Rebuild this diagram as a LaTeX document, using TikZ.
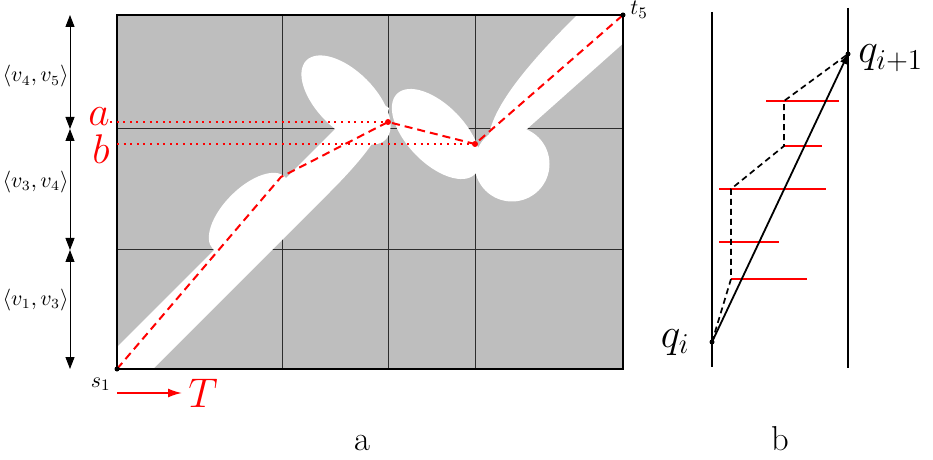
\documentclass[tikz,border=0pt]{standalone}
\usetikzlibrary{arrows.meta}
\definecolor{bggray}{RGB}{190,190,190}
\definecolor{gridgray}{RGB}{45,45,45}
\begin{document}
\begin{tikzpicture}[x=0.5pt,y=-0.5pt,
  gridline/.style={gridgray, line width=0.5pt},
  border/.style={black, line width=1pt},
  redpath/.style={red, line width=1pt, dash pattern=on 4pt off 2.5pt},
  reddotted/.style={red, line width=1pt, dash pattern=on 1pt off 2.3pt},
  blackdash/.style={black, line width=0.85pt, dash pattern=on 3pt off 2pt},
  redbar/.style={red, line width=0.9pt},
  rail/.style={black, line width=0.9pt},
  dimarrow/.style={black, line width=0.5pt, {Triangle[length=6pt,width=4.5pt]}-{Triangle[length=6pt,width=4.5pt]}},
  dimlabel/.style={anchor=east, inner sep=0pt, font=\fontsize{10.5}{12}\selectfont},
  ptlabel/.style={inner sep=0pt, font=\fontsize{11}{13}\selectfont},
  biglabel/.style={inner sep=0pt, font=\huge},
  caption/.style={inner sep=0pt, anchor=base, font=\LARGE},
]
\useasboundingbox (0,0) rectangle (933,460);

% ---------- panel a ----------
\coordinate (bl) at (117,369);
\coordinate (tr) at (623,15);
\fill[bggray] (bl) rectangle (tr);
\foreach \gx in {282,388,475} \draw[gridline] (\gx,15) -- (\gx,369);
\foreach \gy in {129,250} \draw[gridline] (117,\gy) -- (623,\gy);

\begin{scope}
  \clip (bl) rectangle (tr);
  % lower diagonal band
  \fill[white] (95,369) -- (338,126) .. controls (360,105) and (380,100) .. (389,108)
     .. controls (385,130) and (365,157) .. (330,192) -- (150,372) -- cycle;
  % left lobe
  \fill[white, rotate around={45:(249,213)}] (249,213) ellipse [x radius=51, y radius=25];
  % upper lobe
  \fill[white, rotate around={-45:(346,100)}] (346,100) ellipse [x radius=56, y radius=29];
  % middle lobe
  \fill[white, rotate around={-46:(436,134)}] (436,134) ellipse [x radius=56, y radius=29];
  % lower right lobe
  \fill[white] (512,164) circle (37.5);
  % upper right band
  \fill[white] (592,0) -- (577,15) .. controls (540,52) and (495,100) .. (489,135)
     .. controls (487,150) and (507,147) .. (527,129) -- (672,0) -- cycle;
\end{scope}
\draw[border] (bl) rectangle (tr);

\coordinate (s1) at (117,369);
\coordinate (p1) at (281,177);
\coordinate (p2) at (388,122);
\coordinate (p3) at (475,144);
\coordinate (t5) at (623,15);

\node[biglabel, red, anchor=base east] (la) at (110,126) {$a$};
\node[biglabel, red, anchor=base east] (lb) at (110,164) {$b$};
\draw[reddotted] (la.east |- p2) -- (p2);
\draw[reddotted] (s1 |- p3) -- (p3);
\draw[redpath] (s1) -- (p1) -- (p2) -- (p3) -- (t5);
\fill[red] (p2) circle (3);
\fill[red] (p3) circle (3);
\fill (s1) circle (2.5);
\fill (t5) circle (2.5);

\node[ptlabel, anchor=base east] (ls) at (111,387) {$s_1$};
\node[ptlabel, anchor=base west] (lt) at (630,15) {$t_5$};

% T arrow
\coordinate (Tstart) at (117,393);
\node[biglabel, red, anchor=base west] (T) at (188,408) {$T$};
\draw[red, line width=0.9pt, -{Latex[length=7pt,width=4.5pt]}] (Tstart) -- ([xshift=-3pt]T.west |- Tstart);

% dimension arrows
\coordinate (d0) at (70,15);
\coordinate (d1) at (70,129);
\coordinate (d2) at (70,250);
\coordinate (d3) at (70,369);
\draw[dimarrow] (d0) -- (d1);
\draw[dimarrow] (d1) -- (d2);
\draw[dimarrow] (d2) -- (d3);
\node[dimlabel] (l45) at (69,76.5) {$\langle v_4,v_5\rangle$};
\node[dimlabel] (l34) at (69,182) {$\langle v_3,v_4\rangle$};
\node[dimlabel] (l13) at (69,300) {$\langle v_1,v_3\rangle$};

\node[caption] (capa) at (362,450) {a};

% ---------- panel b ----------
\coordinate (r1t) at (712,12);
\coordinate (r1b) at (712,367);
\coordinate (r2t) at (848,8);
\coordinate (r2b) at (848,368);
\draw[rail] (r1t) -- (r1b);
\draw[rail] (r2t) -- (r2b);

\draw[redbar] (766,101) -- (839,101);
\draw[redbar] (784,146) -- (822,146);
\draw[redbar] (719,189) -- (826,189);
\draw[redbar] (719,242) -- (779,242);
\draw[redbar] (731,279) -- (807,279);

\coordinate (qi) at (712,342);
\coordinate (qj) at (848,54);
\coordinate (k1) at (731,279);
\coordinate (k2) at (731,189);
\coordinate (k3) at (784,146);
\coordinate (k4) at (784,101);
\draw[blackdash] (qi) -- (k1) -- (k2) -- (k3) -- (k4) -- (qj);
\draw[rail, -{Latex[length=5pt,width=4pt]}] (qi) -- (qj);
\fill (qi) circle (2.5);
\fill (qj) circle (2.5);

\node[biglabel, anchor=base east] (lqi) at (690,347) {$q_i$};
\node[biglabel, anchor=base west] (lqj) at (858,63) {$q_{i+1}$};

\node[caption] (capb) at (780,450) {b};
\end{tikzpicture}
\end{document}
